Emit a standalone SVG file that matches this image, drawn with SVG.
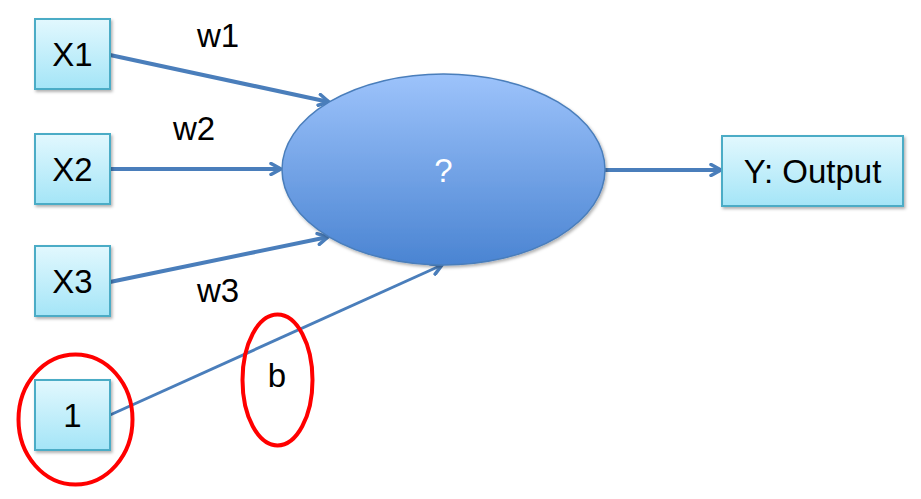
<svg xmlns="http://www.w3.org/2000/svg" width="921" height="499" viewBox="0 0 921 499">
<defs>
<linearGradient id="boxg" x1="0" y1="0" x2="0" y2="1">
<stop offset="0" stop-color="#e2f8fe"/>
<stop offset="1" stop-color="#a4e5f7"/>
</linearGradient>
<linearGradient id="ellg" x1="0" y1="0" x2="0" y2="1">
<stop offset="0" stop-color="#9dc3fb"/>
<stop offset="1" stop-color="#4a84d2"/>
</linearGradient>
<filter id="sh" x="-10%" y="-10%" width="130%" height="130%">
<feDropShadow dx="1.5" dy="2" stdDeviation="1.5" flood-color="#000" flood-opacity="0.3"/>
</filter>
<marker id="ah" markerWidth="14" markerHeight="14" viewBox="0 0 14 14" refX="12" refY="7" orient="auto" markerUnits="userSpaceOnUse">
<path d="M2,1.5 L12,7 L2,12.5" fill="none" stroke="#4a7ebb" stroke-width="3.5" stroke-linecap="round" stroke-linejoin="round"/>
</marker>
</defs>
<style>
.box{fill:url(#boxg);stroke:#4bacc6;stroke-width:2;filter:url(#sh)}
.t{font-family:"Liberation Sans",Arial,sans-serif;font-size:33px;fill:#000;text-anchor:middle}
.c{fill:none;stroke:#4a7ebb;stroke-width:4;marker-end:url(#ah)}
.red{fill:none;stroke:#ff0000;stroke-width:4}
</style>
<g id="connectors">
<line class="c" x1="110" y1="55" x2="329" y2="102"/>
<line class="c" x1="110" y1="169" x2="281" y2="169"/>
<line class="c" x1="110" y1="282" x2="328" y2="237"/>
<line class="c" x1="110" y1="415" x2="442" y2="265" style="stroke-width:3"/>
<line class="c" x1="605" y1="170" x2="721" y2="170"/>
</g>
<g id="neuron">
<ellipse cx="443.5" cy="169.5" rx="161.5" ry="95.5" fill="url(#ellg)" stroke="#4a7ebb" stroke-width="1.5" filter="url(#sh)"/>
<text class="t" x="443.5" y="182" style="fill:#fff">?</text>
</g>
<g id="x1"><rect class="box" x="35" y="19" width="75" height="70"/><text class="t" x="72.5" y="66">X1</text></g>
<g id="x2"><rect class="box" x="35" y="134" width="75" height="70"/><text class="t" x="72.5" y="181">X2</text></g>
<g id="x3"><rect class="box" x="35" y="246" width="75" height="70"/><text class="t" x="72.5" y="293">X3</text></g>
<g id="one"><rect class="box" x="35" y="380" width="75" height="70"/><text class="t" x="72.5" y="427">1</text></g>
<g id="output"><rect class="box" x="722" y="136" width="181" height="70"/><text class="t" x="812.5" y="183">Y: Output</text></g>
<g id="labels">
<text class="t" x="218" y="47">w1</text>
<text class="t" x="194" y="140">w2</text>
<text class="t" x="218" y="302">w3</text>
<text class="t" x="277" y="387">b</text>
</g>
<g id="highlights">
<ellipse class="red" cx="75.5" cy="419.5" rx="57" ry="65"/>
<ellipse class="red" cx="277.5" cy="380" rx="35" ry="65.5"/>
</g>
</svg>
